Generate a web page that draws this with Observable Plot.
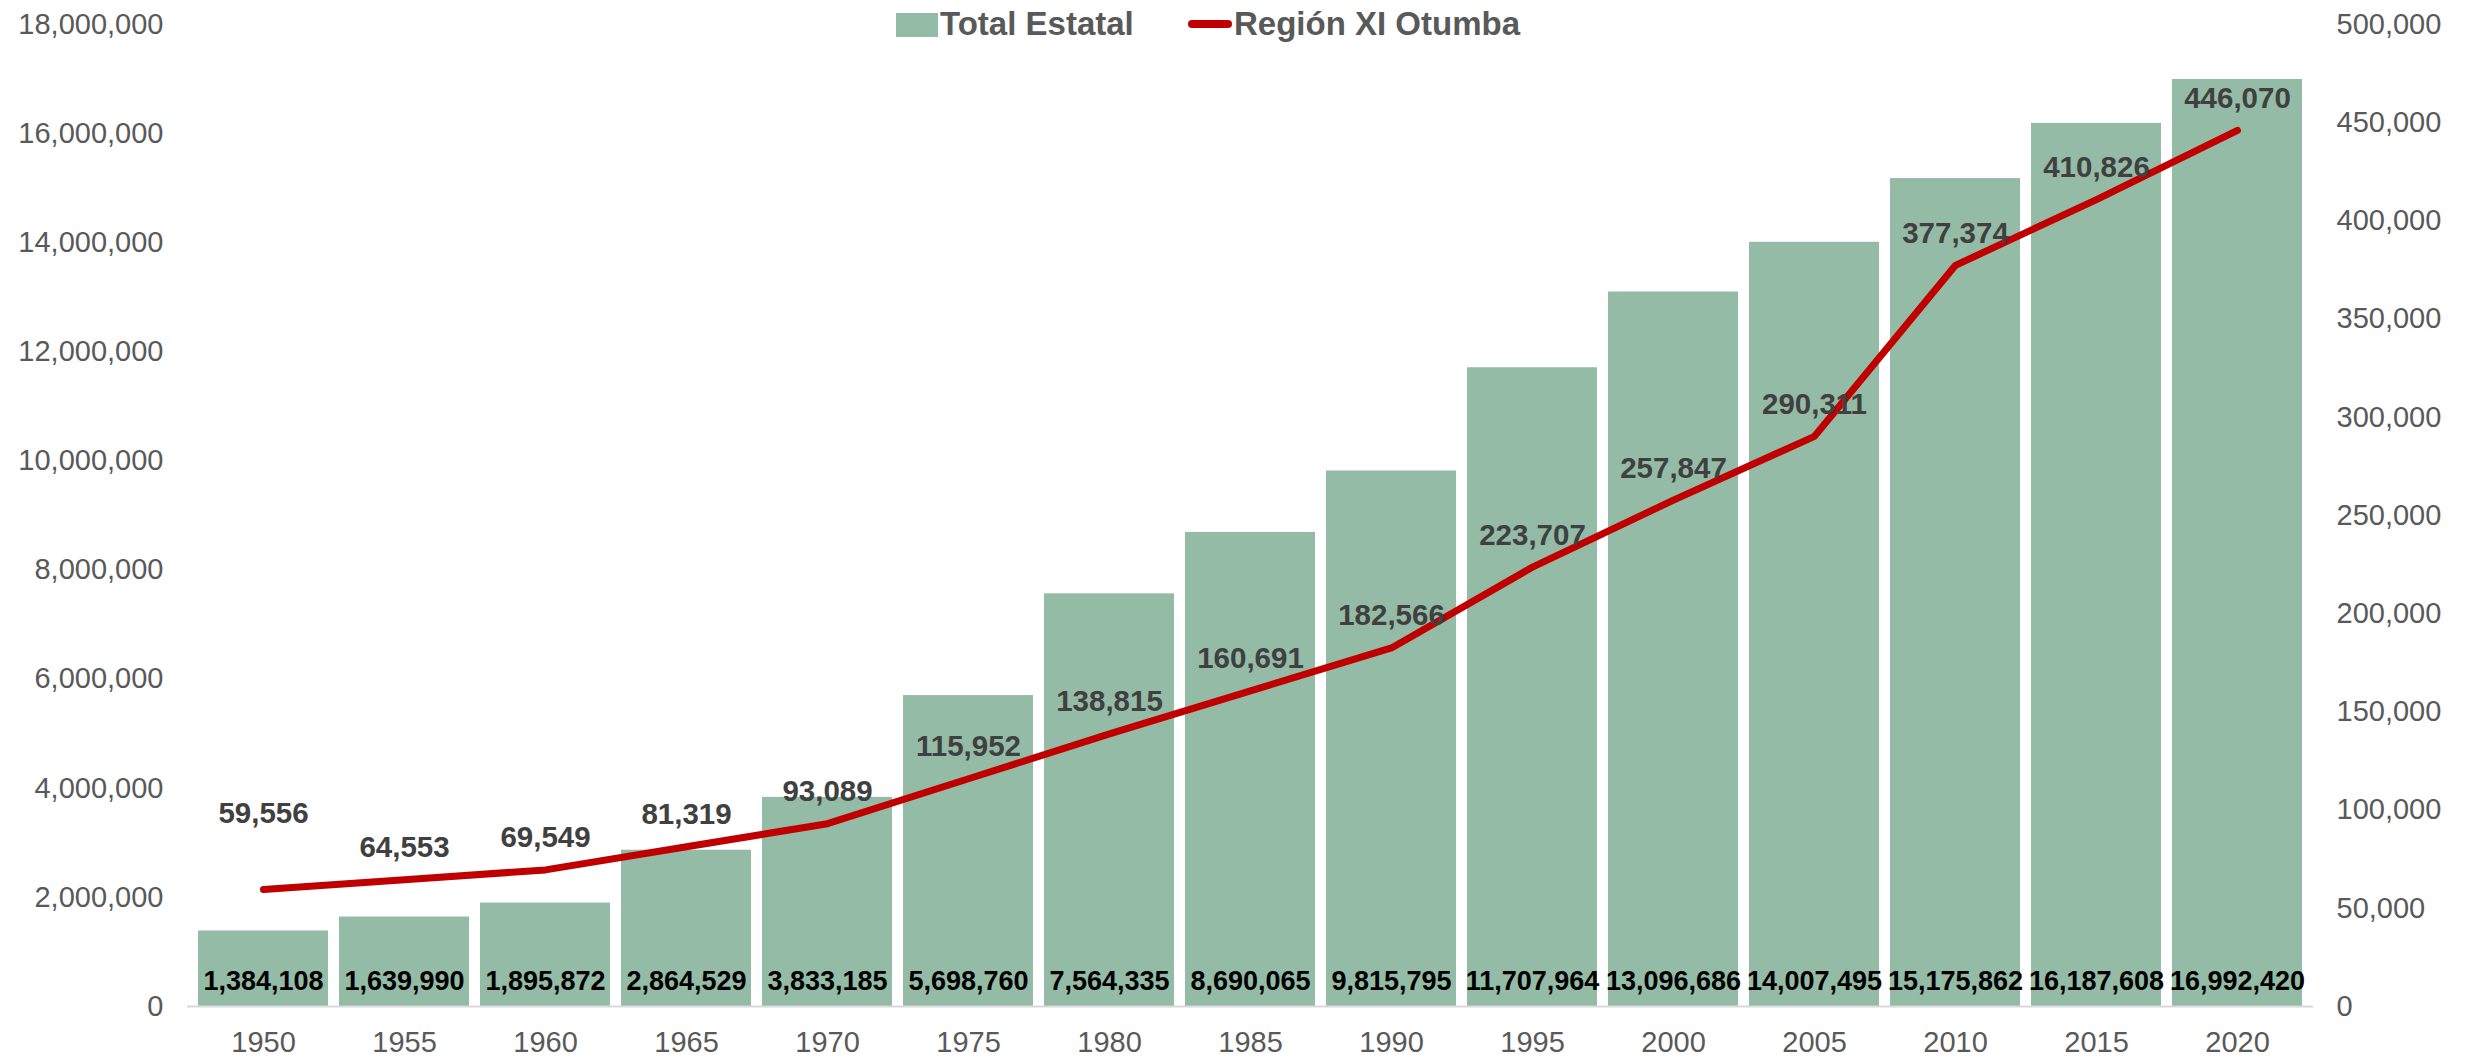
<!DOCTYPE html>
<html>
<head>
<meta charset="utf-8">
<script src="https://cdn.jsdelivr.net/npm/d3@7"></script>
<script src="https://cdn.jsdelivr.net/npm/@observablehq/plot@0.6"></script>
<style>
  html, body { margin: 0; padding: 0; background: #fff; }
  #wrap { position: relative; width: 2484px; height: 1058px; font-family: "Liberation Sans", Arial, sans-serif; }
  #legend { position: absolute; top: 0; left: 0; width: 2484px; height: 48px; pointer-events: none; }
  .sw { position: absolute; }
  .lt { position: absolute; font-weight: bold; font-size: 33px; color: #595959; line-height: 48px; top: 0; white-space: nowrap; }
</style>
</head>
<body>
<div id="wrap">
  <div id="chart"></div>
  <div id="legend">
    <div class="sw" style="left:896px; top:13px; width:42px; height:24px; background:#93BBA5;"></div>
    <div class="lt" style="left:940px;">Total Estatal</div>
    <div class="sw" style="left:1188px; top:20px; width:44px; height:8px; border-radius:4px; background:#C00000;"></div>
    <div class="lt" style="left:1234px;">Región XI Otumba</div>
  </div>
</div>
<script>
const years = ["1950","1955","1960","1965","1970","1975","1980","1985","1990","1995","2000","2005","2010","2015","2020"];
const totalEstatal = [1384108,1639990,1895872,2864529,3833185,5698760,7564335,8690065,9815795,11707964,13096686,14007495,15175862,16187608,16992420];
const regionXI = [59556,64553,69549,81319,93089,115952,138815,160691,182566,223707,257847,290311,377374,410826,446070];

const leftMax = 18000000;
const rightMax = 500000;
const k = leftMax / rightMax;

const data = years.map((y, i) => ({year: y, total: totalEstatal[i], region: regionXI[i], regionScaled: regionXI[i] * k}));
const fmt = d3.format(",");

const chart = Plot.plot({
  width: 2484,
  height: 1058,
  marginLeft: 187,
  marginRight: 171,
  marginTop: 24,
  marginBottom: 52,
  style: {fontFamily: "Liberation Sans, Arial, sans-serif", background: "#fff"},
  x: {type: "band", domain: years, paddingInner: 0.075, paddingOuter: 0.04, label: null},
  y: {domain: [0, leftMax], label: null},
  marks: [
    Plot.barY(data, {x: "year", y: "total", fill: "#93BBA5"}),
    Plot.ruleY([0], {stroke: "#D9D9D9", strokeWidth: 2}),
    Plot.axisY(d3.range(0, leftMax + 1, 2000000), {anchor: "left", tickSize: 0, tickPadding: 24, fontSize: 29, color: "#595959", tickFormat: fmt, label: null}),
    Plot.axisY(d3.range(0, leftMax + 1, 50000 * k), {anchor: "right", tickSize: 0, tickPadding: 23, fontSize: 29, color: "#595959", tickFormat: d => fmt(Math.round(d / k)), label: null}),
    Plot.axisX({anchor: "bottom", tickSize: 0, tickPadding: 25, fontSize: 29, color: "#595959", label: null}),
    Plot.lineY(data, {x: "year", y: "regionScaled", stroke: "#C00000", strokeWidth: 7, strokeLinecap: "round", strokeLinejoin: "round"}),
    Plot.text(data, {x: "year", y: 0, text: d => fmt(d.total), dy: -25, fontSize: 27, fontWeight: "bold", fill: "#000"}),
    Plot.text(data, {x: "year", y: "regionScaled", text: d => fmt(d.region), dy: -32, fontSize: 29.5, fontWeight: "bold", fill: "#404040", filter: d => d.year !== "1950"}),
    Plot.text(data, {x: "year", y: "regionScaled", text: d => fmt(d.region), dy: -76, fontSize: 29.5, fontWeight: "bold", fill: "#404040", filter: d => d.year === "1950"})
  ]
});
document.getElementById("chart").appendChild(chart);
</script>
</body>
</html>
